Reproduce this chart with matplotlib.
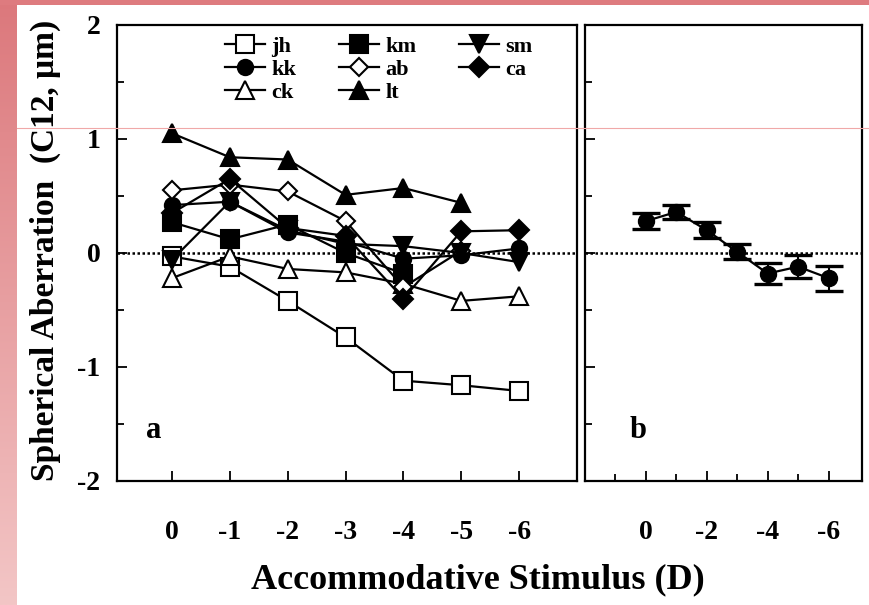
import numpy as np
import matplotlib
matplotlib.use("Agg")
import matplotlib.pyplot as plt
from matplotlib.lines import Line2D
from matplotlib.ticker import MultipleLocator, FixedLocator
from matplotlib.colors import LinearSegmentedColormap

plt.rcParams['font.family'] = ['Liberation Serif', 'DejaVu Serif']
plt.rcParams['font.weight'] = 'bold'
plt.rcParams['axes.unicode_minus'] = False

# ---- data ----
stim = [0, -1, -2, -3, -4, -5, -6]
jh = [-0.03, -0.12, -0.42, -0.74, -1.12, -1.16, -1.21]
kk = [0.42, 0.45, 0.18, 0.10, -0.05, -0.02, 0.04]
ck = [-0.22, -0.03, -0.14, -0.17, -0.27, -0.42, -0.38]
km = [0.27, 0.12, 0.25, 0.00, -0.18]
ab = [0.55, 0.60, 0.54, 0.28, -0.30, 0.02]
lt = [1.05, 0.84, 0.82, 0.51, 0.57, 0.44]
sm = [-0.06, 0.45, 0.20, 0.08, 0.06, 0.00, -0.08]
ca = [0.35, 0.65, 0.22, 0.15, -0.40, 0.19, 0.20]

mean_sa = [0.28, 0.36, 0.20, 0.01, -0.18, -0.12, -0.22]
mean_err = [0.07, 0.065, 0.07, 0.065, 0.09, 0.10, 0.11]

series = [
    ("jh", jh, 's', 'white', 13),
    ("kk", kk, 'o', 'black', 11),
    ("ck", ck, '^', 'white', 13),
    ("km", km, 's', 'black', 13),
    ("ab", ab, 'D', 'white', 9),
    ("lt", lt, '^', 'black', 13),
    ("sm", sm, 'v', 'black', 13),
    ("ca", ca, 'D', 'black', 10),
]

W, H = 870, 605
fig = plt.figure(figsize=(W / 100, H / 100), dpi=100)

# slide background strips
bg = fig.add_axes([0, 0, 17 / W, 1])
grad = np.linspace(0, 1, 256).reshape(-1, 1)
cm = LinearSegmentedColormap.from_list("pk", ["#dc787c", "#f3c6c6"])
bg.imshow(grad, aspect='auto', cmap=cm, extent=[0, 1, 0, 1], origin='upper')
bg.axis('off')
top = fig.add_axes([0, 1 - 5 / H, 1, 5 / H])
top.set_facecolor("#de7b7f")
top.set_xticks([]); top.set_yticks([])
for s in top.spines.values():
    s.set_visible(False)
fig.add_artist(Line2D([17 / W, 1], [1 - 128 / H, 1 - 128 / H], color="#f0a8a8", lw=0.8))

def px(x0, y0, x1, y1):
    return [x0 / W, 1 - y1 / H, (x1 - x0) / W, (y1 - y0) / H]

axa = fig.add_axes(px(117, 25, 577, 481))
axb = fig.add_axes(px(585, 25, 862, 481))

for ax in (axa, axb):
    ax.set_ylim(-2, 2)
    ax.axhline(0, color='black', ls=(0, (1, 1)), lw=1.8, zorder=1)
    ax.yaxis.set_major_locator(MultipleLocator(1))
    ax.yaxis.set_minor_locator(MultipleLocator(0.5))
    ax.tick_params(which='both', direction='in', width=1.3)
    ax.tick_params(which='major', length=7, labelsize=20, pad=28)
    ax.tick_params(which='minor', length=5)
    ax.tick_params(axis='y', which='major', pad=12)
    for s in ax.spines.values():
        s.set_linewidth(1.6)

# panel a
for name, vals, mk, fc, ms in series:
    axa.plot(stim[:len(vals)], vals, marker=mk, color='black', mfc=fc, mec='black',
             ms=ms, mew=1.5, lw=1.6, label=name, zorder=3)
axa.set_xlim(0.95, -7.0)
axa.xaxis.set_major_locator(FixedLocator(stim))
axa.set_xticklabels(["0", "-1", "-2", "-3", "-4", "-5", "-6"])
for lab in axa.get_xticklabels() + axa.get_yticklabels():
    lab.set_fontweight('bold')
axa.text(0.08, 0.11, "a", transform=axa.transAxes, fontsize=22, fontweight='bold',
         ha='center', va='center')
leg = axa.legend(ncol=3, loc='upper left', bbox_to_anchor=(0.21, 1.0), frameon=False,
                 fontsize=16, handlelength=1.8, handletextpad=0.3, columnspacing=1.9,
                 labelspacing=0.12, borderaxespad=0.1)
for t in leg.get_texts():
    t.set_fontweight('bold')

# panel b
axb.errorbar(stim, mean_sa, yerr=mean_err, fmt='o', color='black', ms=11.5,
             lw=1.6, ls='-', elinewidth=1.5, capsize=10, capthick=2.4, zorder=3)
axb.set_xlim(2.0, -7.1)
axb.xaxis.set_major_locator(FixedLocator([0, -2, -4, -6]))
axb.xaxis.set_minor_locator(FixedLocator([1, -1, -3, -5]))
axb.set_xticklabels(["0", "-2", "-4", "-6"])
axb.set_yticklabels([])
for lab in axb.get_xticklabels():
    lab.set_fontweight('bold')
axb.text(0.19, 0.11, "b", transform=axb.transAxes, fontsize=22, fontweight='bold',
         ha='center', va='center')

fig.text(45 / W, 1 - 250 / H, "Spherical Aberration  (C12, \u03bcm)", rotation=90,
         fontsize=24, fontweight='bold', ha='center', va='center')
fig.text(478 / W, 1 - 580 / H, "Accommodative Stimulus (D)", fontsize=26,
         fontweight='bold', ha='center', va='center')

fig.savefig("out.png", dpi=100)
